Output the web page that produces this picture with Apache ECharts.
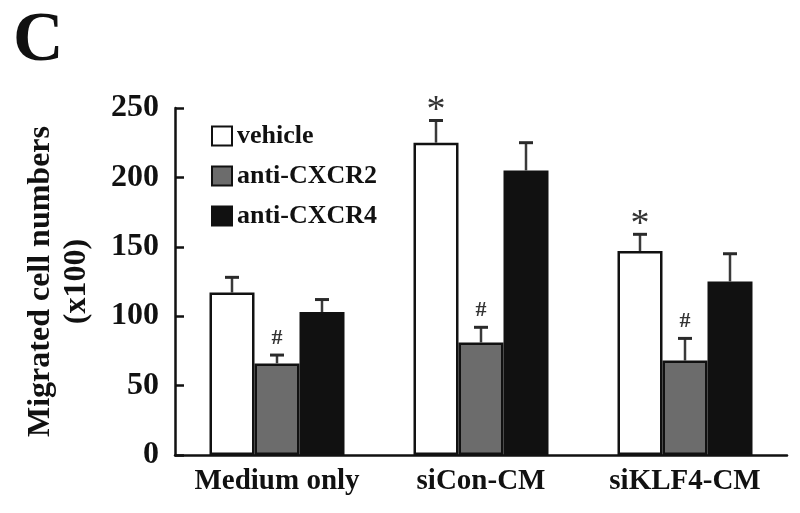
<!DOCTYPE html>
<html>
<head>
<meta charset="utf-8">
<script src="https://cdn.jsdelivr.net/npm/echarts@6/dist/echarts.min.js"></script>
<style>
  html, body { margin: 0; padding: 0; background: #fff; }
  #main { width: 800px; height: 513px; }
</style>
</head>
<body>
<div id="main"></div>
<script>
// data
var categories = ['Medium only', 'siCon-CM', 'siKLF4-CM'];
var seriesNames = ['vehicle', 'anti-CXCR2', 'anti-CXCR4'];
var vehicle = [117, 225, 147];
var vehicleErr = [11, 16, 12];
var antiCXCR2 = [66, 81, 68];
var antiCXCR2Err = [6, 11, 16];
var antiCXCR4 = [103, 205, 125];
var antiCXCR4Err = [9, 20, 20];
var vehicleMarks = ['', '*', '*'];
var antiCXCR2Marks = ['#', '#', '#'];
var antiCXCR4Marks = ['', '', ''];
var yTicks = [0, 50, 100, 150, 200, 250];

var FONT = '"Liberation Serif", "Times New Roman", serif';
var BAR_W = 45;

var chart = echarts.init(document.getElementById('main'));

// error bar + significance mark, drawn on the matching bar (k = position in group)
function errorSeries(k, values, errs, marks) {
    var data = values.map(function (v, i) { return [i, v, errs[i]]; });
    return {
        type: 'custom',
        silent: true,
        z: 5,
        data: data,
        renderItem: function (params, api) {
            var ci = api.value(0);
            var v = api.value(1);
            var e = api.value(2);
            var base = api.coord([ci, v]);
            var top = api.coord([ci, v + e]);
            var x = base[0] + (k - 1) * BAR_W;
            var children = [
                { type: 'line', shape: { x1: x, y1: base[1], x2: x, y2: top[1] },
                  style: { stroke: '#3a3a3a', lineWidth: 2.5 } },
                { type: 'line', shape: { x1: x - 7, y1: top[1], x2: x + 7, y2: top[1] },
                  style: { stroke: '#2a2a2a', lineWidth: 3 } }
            ];
            var m = marks[params.dataIndex];
            if (m === '*') {
                children.push({ type: 'text', x: x, y: top[1] + 10,
                    style: { text: '*', font: '38px ' + FONT, fill: '#333', align: 'center', verticalAlign: 'bottom' } });
            } else if (m === '#') {
                children.push({ type: 'text', x: x, y: top[1] - 6,
                    style: { text: '#', font: 'bold 22px ' + FONT, fill: '#333', align: 'center', verticalAlign: 'bottom' } });
            }
            return { type: 'group', children: children };
        }
    };
}

var option = {
    backgroundColor: '#fff',
    animation: false,
    title: {
        text: 'C',
        left: 8,
        top: 2,
        textStyle: { fontFamily: FONT, fontSize: 70, fontWeight: 'bold', color: '#111' }
    },
    legend: {
        data: seriesNames,
        orient: 'vertical',
        left: 206,
        top: 118,
        icon: 'rect',
        itemWidth: 20,
        itemHeight: 19,
        itemGap: 14,
        textStyle: { fontFamily: FONT, fontSize: 26, fontWeight: 'bold', color: '#111', lineHeight: 19 }
    },
    grid: { left: 175, right: 13, top: 108, bottom: 58 },
    xAxis: {
        type: 'category',
        data: categories,
        axisLine: { lineStyle: { color: '#111', width: 2.5 } },
        axisTick: { inside: true, length: 7, lineStyle: { color: '#111', width: 2.5 } },
        axisLabel: { interval: 0, margin: 12, fontFamily: FONT, fontSize: 29, fontWeight: 'bold', color: '#111' }
    },
    yAxis: {
        type: 'value',
        min: yTicks[0],
        max: yTicks[yTicks.length - 1],
        interval: 50,
        name: 'Migrated cell numbers\n(x100)',
        nameLocation: 'middle',
        nameGap: 80,
        nameTextStyle: { fontFamily: FONT, fontSize: 32, fontWeight: 'bold', color: '#111', lineHeight: 36 },
        axisLine: { show: true, lineStyle: { color: '#111', width: 2.5 } },
        axisTick: { show: true, inside: true, length: 9, lineStyle: { color: '#111', width: 2.5 } },
        axisLabel: { margin: 16, fontFamily: FONT, fontSize: 32, fontWeight: 'bold', color: '#111' },
        splitLine: { show: false }
    },
    series: [
        { name: seriesNames[0], type: 'bar', data: vehicle, barWidth: BAR_W, barGap: '0%',
          itemStyle: { color: '#ffffff', borderColor: '#111', borderWidth: 2.5 } },
        { name: seriesNames[1], type: 'bar', data: antiCXCR2, barWidth: BAR_W, barGap: '0%',
          itemStyle: { color: '#6c6c6c', borderColor: '#111', borderWidth: 2.5 } },
        { name: seriesNames[2], type: 'bar', data: antiCXCR4, barWidth: BAR_W, barGap: '0%',
          itemStyle: { color: '#111111', borderColor: '#111', borderWidth: 2.5 } },
        errorSeries(0, vehicle, vehicleErr, vehicleMarks),
        errorSeries(1, antiCXCR2, antiCXCR2Err, antiCXCR2Marks),
        errorSeries(2, antiCXCR4, antiCXCR4Err, antiCXCR4Marks)
    ]
};

chart.setOption(option);
</script>
</body>
</html>
